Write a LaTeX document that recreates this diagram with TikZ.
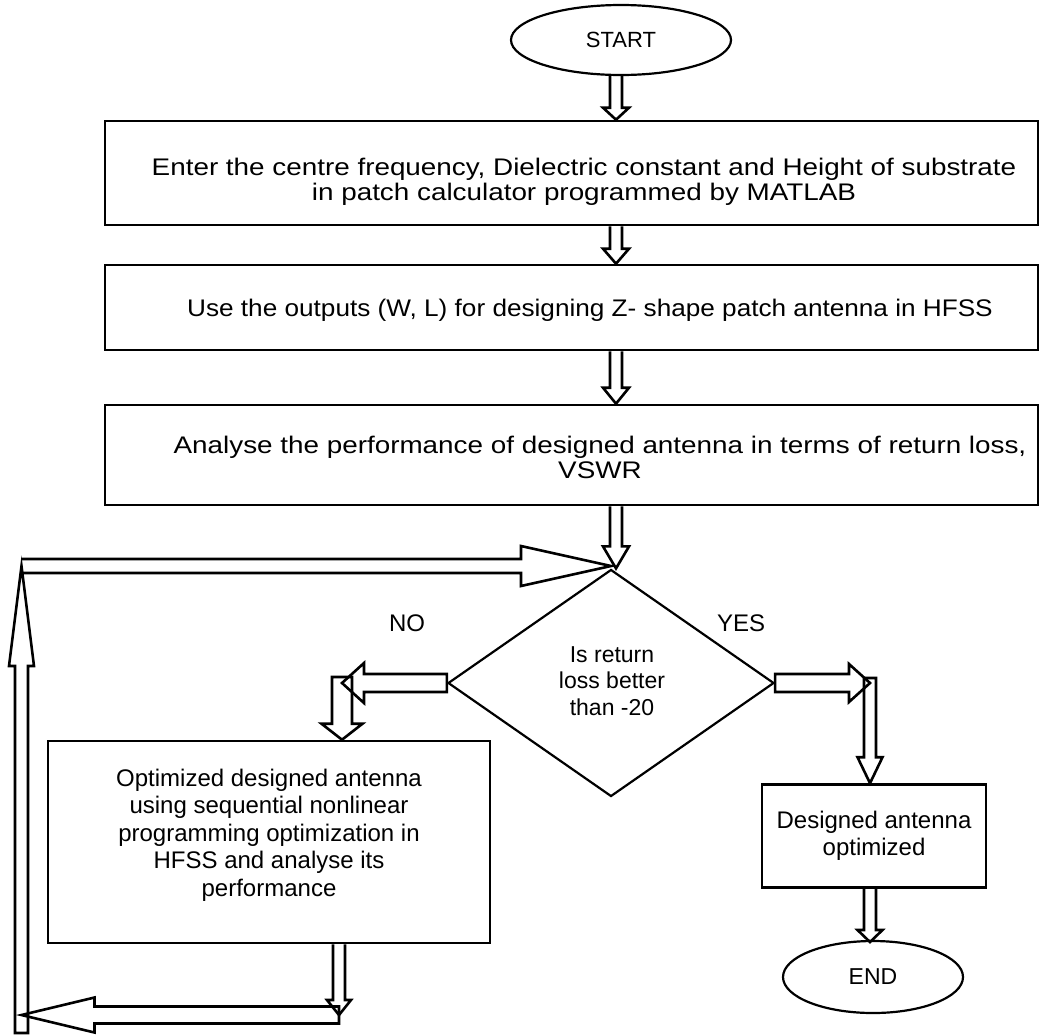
\documentclass[tikz,border=0pt]{standalone}
\usepackage{fontspec}
\setmainfont{Liberation Sans}
\newfontfamily\wideA[FakeStretch=1.16]{Liberation Sans}
\newfontfamily\wideB[FakeStretch=1.09]{Liberation Sans}
\usetikzlibrary{calc,shapes.geometric}
\tikzset{
 box/.style={draw, line width=2.6pt, rectangle, inner sep=0pt},
 term/.style={draw, ellipse, line width=2.2pt, inner sep=0pt},
 txt/.style={font=\fontsize{24}{27.5}\selectfont, align=center, inner sep=0pt},
 wtxtA/.style={font=\wideA\fontsize{24}{25}\selectfont, align=center, inner sep=0pt},
 wtxtB/.style={font=\wideB\fontsize{24}{25}\selectfont, align=center, inner sep=0pt},
 blk/.style={draw, line width=2.6pt, line join=miter},
}
\newcommand{\ArrD}[5]{\draw[blk] let \p1=(#1), \p2=(#2) in (\x1-#3,\y1) -- (\x1-#3,\y2+#5) -- (\x1-#4,\y2+#5) -- (\x1,\y2) -- (\x1+#4,\y2+#5) -- (\x1+#3,\y2+#5) -- (\x1+#3,\y1);}
\newcommand{\ArrDc}[5]{\draw[blk] let \p1=(#1), \p2=(#2) in (\x1-#3,\y1) -- (\x1-#3,\y2+#5) -- (\x1-#4,\y2+#5) -- (\x1,\y2) -- (\x1+#4,\y2+#5) -- (\x1+#3,\y2+#5) -- (\x1+#3,\y1) -- cycle;}
\newcommand{\ArrUc}[5]{\draw[blk] let \p1=(#1), \p2=(#2) in (\x1-#3,\y1) -- (\x1-#3,\y2-#5) -- (\x1-#4,\y2-#5) -- (\x1,\y2) -- (\x1+#4,\y2-#5) -- (\x1+#3,\y2-#5) -- (\x1+#3,\y1) -- cycle;}
\newcommand{\ArrL}[5]{\draw[blk] let \p1=(#1), \p2=(#2) in (\x1,\y1+#3) -- (\x2+#5,\y1+#3) -- (\x2+#5,\y1+#4) -- (\x2,\y1) -- (\x2+#5,\y1-#4) -- (\x2+#5,\y1-#3) -- (\x1,\y1-#3) -- cycle;}
\newcommand{\ArrR}[5]{\draw[blk] let \p1=(#1), \p2=(#2) in (\x1,\y1+#3) -- (\x2-#5,\y1+#3) -- (\x2-#5,\y1+#4) -- (\x2,\y1) -- (\x2-#5,\y1-#4) -- (\x2-#5,\y1-#3) -- (\x1,\y1-#3);}
\newcommand{\ArrRc}[5]{\draw[blk] let \p1=(#1), \p2=(#2) in (\x1,\y1+#3) -- (\x2-#5,\y1+#3) -- (\x2-#5,\y1+#4) -- (\x2,\y1) -- (\x2-#5,\y1-#4) -- (\x2-#5,\y1-#3) -- (\x1,\y1-#3) -- cycle;}
\begin{document}
\begin{tikzpicture}[x=1pt,y=-1pt]
\useasboundingbox (0,0) rectangle (1040,1034);
% nodes
\node[term, minimum width=220pt, minimum height=70pt, txt, font=\fontsize{22}{26}\selectfont] (start) at (621,40) {START};
\node[box, minimum width=933pt, minimum height=104pt] (b1) at (571.5,173) {};
\node[wtxtA] (t1) at (584,182) {Enter the centre frequency, Dielectric constant and Height of substrate\\in patch calculator programmed by MATLAB};
\node[box, minimum width=933pt, minimum height=85pt] (b2) at (571.5,307.5) {};
\node[wtxtB] (t2) at (590,310) {Use the outputs (W, L) for designing Z- shape patch antenna in HFSS};
\node[box, minimum width=933pt, minimum height=100pt] (b3) at (571.5,455) {};
\node[wtxtA] (t3) at (600,457) {Analyse the performance of designed antenna in terms of return loss,\\VSWR};
\node[draw, diamond, line width=2.2pt, aspect=1.44, minimum width=326pt, minimum height=227pt, inner sep=0pt] (dec) at (611,683) {};
\node[txt, font=\fontsize{23}{26.5}\selectfont] (td) at (612,681) {Is return\\loss better\\than -20};
\node[txt] (no) at (407,623) {NO};
\node[txt] (yes) at (741,623) {YES};
\node[box, minimum width=442pt, minimum height=202pt] (opt) at (269,842) {};
\node[txt] (topt) at (269,835) {Optimized designed antenna\\using sequential nonlinear\\programming optimization in\\HFSS and analyse its\\performance};
\node[box, minimum width=224pt, minimum height=103pt, txt] (des) at (874,836) {Designed antenna\\optimized};
\node[term, minimum width=180pt, minimum height=72pt, txt, font=\fontsize{23}{26}\selectfont] (end) at (873,977) {END};
% x positions of connectors
\coordinate (cx) at (616,0);
\coordinate (nx) at (342,0);
\coordinate (yx) at (870,0);
\coordinate (ox) at (339,0);
\coordinate (lx) at (21.5,0);
\coordinate (pn) at (342,677);
\coordinate (py) at (870,678);
\coordinate (pb) at (339,1015);
\coordinate (pl) at (21.5,1033);
\coordinate (ptop) at (21.5,566);
\coordinate (pend) at (869,942);
% main column
\ArrD{cx |- start.south}{cx |- b1.north}{6pt}{13pt}{12pt}
\ArrD{cx |- b1.south}{cx |- b2.north}{6pt}{13pt}{15pt}
\ArrD{cx |- b2.south}{cx |- b3.north}{6pt}{13pt}{16pt}
\ArrD{cx |- b3.south}{dec.north}{6pt}{13pt}{22pt}
% NO branch
\ArrL{dec.west}{pn -| nx}{9pt}{20pt}{22pt}
\ArrDc{pn}{nx |- opt.north}{10pt}{20.5pt}{16pt}
% YES branch
\ArrRc{dec.east}{py}{9pt}{19pt}{21pt}
\ArrDc{py}{yx |- des.north}{6pt}{12.5pt}{26pt}
\ArrD{yx |- des.south}{pend}{6pt}{12.5pt}{12pt}
% feedback loop
\ArrD{ox |- opt.south}{ox |- pb}{6pt}{12pt}{15pt}
\ArrL{pb}{lx |- pb}{8.5pt}{17.5pt}{73pt}
\ArrUc{pl}{ptop}{6.5pt}{12.5pt}{100pt}
\ArrR{ptop}{dec.north}{7pt}{20pt}{90pt}
\end{tikzpicture}
\end{document}
